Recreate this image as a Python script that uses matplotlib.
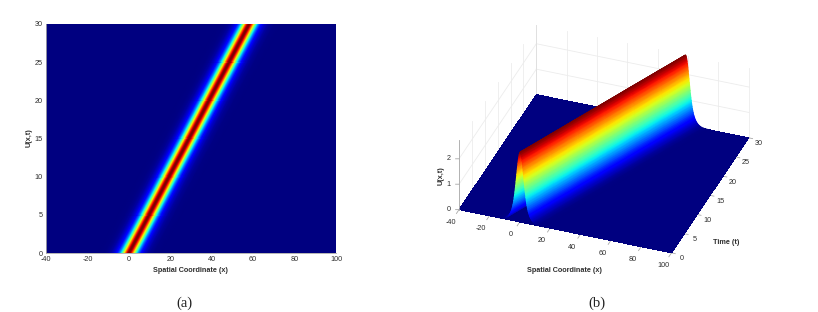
import numpy as np
import matplotlib
matplotlib.use('agg')
import matplotlib.pyplot as plt
from mpl_toolkits.mplot3d import proj3d

plt.rcParams['font.family'] = ['Liberation Sans', 'DejaVu Sans']
plt.rcParams['axes.unicode_minus'] = False

# crest of the wave
crest_t = [0, 5, 10, 15, 20, 25, 30]
crest_x = [0.3, 10.0, 19.6, 29.3, 38.9, 48.6, 58.3]

# wave height against distance from the crest
dist = [0, 0.25, 0.5, 0.75, 1, 1.25, 1.5, 1.75, 2, 2.25, 2.5, 2.75, 3, 3.25, 3.5, 3.75, 4, 4.25, 4.5, 4.75,
        5, 5.25, 5.5, 5.75, 6, 6.25, 6.5, 6.75, 7, 7.25, 7.5, 7.75, 8, 8.5, 9, 9.5, 10, 12, 15]
height = [2.75, 2.735, 2.69, 2.624, 2.53, 2.418, 2.29, 2.148, 2.00, 1.846, 1.69, 1.543, 1.40, 1.259, 1.13,
          1.008, 0.90, 0.794, 0.70, 0.63, 0.56, 0.49, 0.44, 0.39, 0.35, 0.31, 0.275, 0.245, 0.22, 0.195,
          0.175, 0.155, 0.14, 0.11, 0.085, 0.065, 0.05, 0.015, 0.0]

x_lim = [-40, 100]
t_lim = [0, 30]
u_top = 2.75
x_ticks = [-40, -20, 0, 20, 40, 60, 80, 100]
a_t_ticks = [0, 5, 10, 15, 20, 25, 30]
u_ticks = [0, 1, 2]

W, H = 818, 312
ink = '#2e2e2e'
grid_c = '#ececec'
axis_c = '#a8a8a8'

off = np.concatenate([-np.array(dist[::-1]), np.array(dist[1:])])
prof = np.concatenate([np.array(height[::-1]), np.array(height[1:])])
X = np.array([c + off for c in crest_x])
T = np.array([[t] * len(off) for t in crest_t], dtype=float)
Z = np.array([prof for c in crest_x])

fig = plt.figure(figsize=(W / 100, H / 100), dpi=100)

# panel (a)
ax = fig.add_axes([46 / W, 1 - 253 / H, 290 / W, 229 / H])
ax.set_facecolor(plt.get_cmap('jet')(0.0))
ax.pcolormesh(X, T, Z, cmap='jet', vmin=0, vmax=u_top, shading='gouraud')
ax.set_xlim(x_lim)
ax.set_ylim(t_lim)
ax.set_xticks(x_ticks)
ax.set_yticks(a_t_ticks)
ax.tick_params(length=0, labelsize=5.2, labelcolor=ink, pad=2.5)
for s in ['top', 'right']:
    ax.spines[s].set_visible(False)
for s in ['left', 'bottom']:
    ax.spines[s].set_color(axis_c)
    ax.spines[s].set_linewidth(0.6)
fig.text(190 / W, 1 - 270 / H, 'Spatial Coordinate (x)', ha='center', va='center', fontsize=5.2,
         fontweight='bold', color=ink)
fig.text(29.5 / W, 1 - 138 / H, 'U(x,t)', ha='center', va='center', rotation=90, fontsize=5.2,
         fontweight='bold', color=ink)

# panel (b)
side = 319
cx, cy = 599.6, 143.1
ax3 = fig.add_axes([(cx - side / 2) / W, 1 - (cy + side / 2) / H, side / W, side / H],
                   projection='3d', computed_zorder=False)
ax3.patch.set_alpha(0)
ax3.set_proj_type('ortho')
ax3.view_init(elev=33.4, azim=-69.7)
ax3.set_box_aspect((679, 668, 251), zoom=1.0)
ax3.set_axis_off()
ax3.set_xlim(x_lim, view_margin=0)
ax3.set_ylim(t_lim, view_margin=0)
ax3.set_zlim(0, u_top, view_margin=0)

# faint walls
for x in x_ticks:
    ax3.plot([x, x], [30, 30], [0, u_top], color=grid_c, lw=0.6, zorder=1)
for t in a_t_ticks:
    ax3.plot([-40, -40], [t, t], [0, u_top], color=grid_c, lw=0.6, zorder=1)
for u in u_ticks[1:]:
    ax3.plot([-40, 100], [30, 30], [u, u], color=grid_c, lw=0.6, zorder=1)
    ax3.plot([-40, -40], [0, 30], [u, u], color=grid_c, lw=0.6, zorder=1)
ax3.plot([-40, -40], [30, 30], [0, u_top], color='#dedede', lw=0.6, zorder=1)

# floor
fx, ft = np.meshgrid(x_lim, t_lim)
ax3.plot_surface(fx, ft, np.zeros_like(fx, dtype=float), color=plt.get_cmap('jet')(0.0), shade=False,
                 linewidth=0, antialiased=False, zorder=2)

# axis lines and tick marks
ax3.plot([-40, -40], [0, 0], [0, u_top], color=axis_c, lw=0.6, zorder=4)
ax3.plot([100, 100], [0, 30], [0, 0], color=axis_c, lw=0.6, zorder=1.5)
for x in x_ticks:
    ax3.plot([x, x], [0, -1.0], [0, 0], color=axis_c, lw=0.6, zorder=1.5)
for t in a_t_ticks:
    ax3.plot([100, 102.5], [t, t], [0, 0], color=axis_c, lw=0.6, zorder=1.5)
for u in u_ticks:
    ax3.plot([-40, -42], [0, -0.16], [u, u], color=axis_c, lw=0.6, zorder=4)

# the 3d axes has to be laid out before its projection can be used
fig.canvas.draw()


def to_px(x, t, u):
    xs, ys, _ = proj3d.proj_transform(np.ravel(x), np.ravel(t), np.ravel(u), ax3.get_proj())
    pts = ax3.transData.transform(np.column_stack([xs, ys]))
    return pts[:, 0].reshape(np.shape(x)), pts[:, 1].reshape(np.shape(x))


# ridge, smooth shaded on top of the floor. rows go from far to near so it paints in the right order
over = fig.add_axes([0, 0, 1, 1])
over.patch.set_alpha(0)
over.set_axis_off()
px, py = to_px(X[::-1], T[::-1], Z[::-1])
over.pcolormesh(px, py, Z[::-1], cmap='jet', vmin=0, vmax=u_top, shading='gouraud')
over.set_xlim(0, W)
over.set_ylim(0, H)

# tick labels of panel (b)
for x in x_ticks:
    a, b = to_px(np.array(x, dtype=float), np.array(-3.3), np.array(0.0))
    fig.text(float(a) / W, float(b) / H, str(x), ha='center', va='center', fontsize=5.2, color=ink)
for t in a_t_ticks:
    a, b = to_px(np.array(106.5), np.array(t, dtype=float), np.array(-0.15))
    fig.text(float(a) / W, float(b) / H, str(t), ha='center', va='center', fontsize=5.2, color=ink)
for u in u_ticks:
    a, b = to_px(np.array(-46.0), np.array(-0.48), np.array(u, dtype=float))
    fig.text(float(a) / W, float(b) / H, str(u), ha='center', va='center', fontsize=5.2, color=ink)

fig.text(564.7 / W, 1 - 271 / H, 'Spatial Coordinate (x)', ha='center', va='center', fontsize=5.2,
         fontweight='bold', color=ink)
fig.text(725.7 / W, 1 - 243 / H, 'Time (t)', ha='center', va='center', fontsize=5.2,
         fontweight='bold', color=ink)
fig.text(441 / W, 1 - 176 / H, 'U(x,t)', ha='center', va='center', rotation=90, fontsize=5.2,
         fontweight='bold', color=ink)

fig.text(184 / W, 1 - 303 / H, '(a)', ha='center', va='center', fontsize=10.5, family='Liberation Serif',
         color='#222222')
fig.text(597 / W, 1 - 303 / H, '(b)', ha='center', va='center', fontsize=10.5, family='Liberation Serif',
         color='#222222')

fig.savefig('out.png', dpi=100)
